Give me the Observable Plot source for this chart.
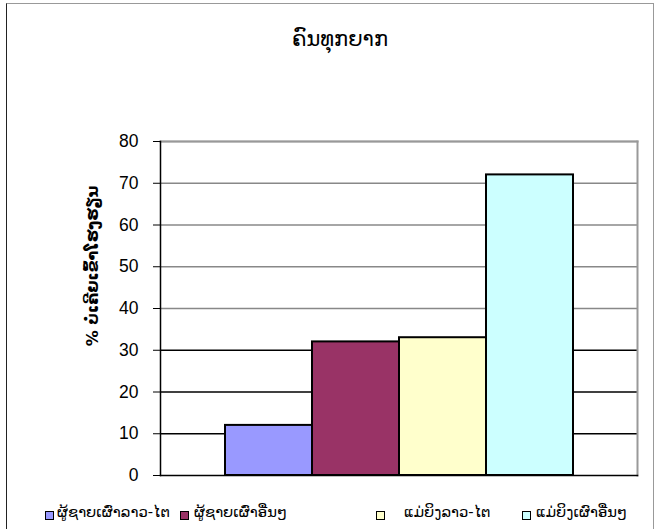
<!DOCTYPE html>
<html>
<head>
<meta charset="utf-8">
<script src="https://cdn.jsdelivr.net/npm/d3@7"></script>
<script src="https://cdn.jsdelivr.net/npm/@observablehq/plot@0.6"></script>
<style>
  html, body { margin: 0; padding: 0; background: #fff; }
  #page { position: relative; width: 655px; height: 529px; overflow: hidden; background: #fff; }
  #box { position: absolute; left: 6px; top: 3px; width: 646px; height: 540px;
         border-left: 1px solid #222; border-top: 1px solid #999; border-right: 1px solid #999; }
  #title { position: absolute; left: 0; width: 680px; top: 27px; text-align: center;
           font-family: "DejaVu Sans", sans-serif; font-size: 21px; color: #000; }
  #ylabel { position: absolute; left: 92px; top: 266px; transform: translate(-50%, -50%) rotate(-90deg);
            white-space: nowrap; font-family: "DejaVu Sans", sans-serif; font-weight: bold; font-size: 16px; color: #000; }
  #legend { position: absolute; top: 503px; left: 0; width: 655px; height: 24px;
            font-family: "DejaVu Sans", sans-serif; font-size: 14.8px; color: #000; }
  .sw { position: absolute; top: 8px; width: 7px; height: 7px; border: 1px solid #000; }
  .lab { position: absolute; top: 0; white-space: nowrap; }
  #chart { position: absolute; left: 0; top: 0; }
</style>
</head>
<body>
<div id="page">
  <div id="box"></div>
  <div id="chart"></div>
  <div id="title"></div>
  <div id="ylabel"></div>
  <div id="legend"></div>
</div>
<script>
const title = "ຄົນທຸກຍາກ";
const yLabel = "% ບໍ່ເຄີຍເຂົ້າໂຮງຮຽນ";
const series = ["ຜູ້ຊາຍເຜົ່າລາວ-ໄຕ", "ຜູ້ຊາຍເຜົ່າອື່ນໆ", "ແມ່ຍິງລາວ-ໄຕ", "ແມ່ຍິງເຜົາອື່ນໆ"];
const values = [12, 32, 33, 72];
const colors = ["#9999ff", "#993366", "#ffffcc", "#ccffff"];
const yTicks = [0, 10, 20, 30, 40, 50, 60, 70, 80];

const data = series.map((s, i) => ({series: s, value: values[i], color: colors[i]}));

document.getElementById("title").textContent = title;
document.getElementById("ylabel").textContent = yLabel;

const chart = Plot.plot({
  width: 655,
  height: 490,
  marginTop: 141,
  marginBottom: 15,
  marginLeft: 160,
  marginRight: 18,
  style: {background: "transparent", overflow: "visible"},
  x: {type: "band", domain: series, range: [225, 573], padding: 0, axis: null},
  y: {domain: [0, 80], ticks: yTicks},
  marks: [
    Plot.ruleY(yTicks.filter(d => d > 0), {stroke: d => d >= 40 ? "#888" : "#000", strokeWidth: 1.3}),
    Plot.frame({anchor: "top", stroke: "#999", strokeWidth: 2}),
    Plot.frame({anchor: "right", stroke: "#999", strokeWidth: 2}),
    Plot.barY(data, {x: "series", y: "value", fill: "color", stroke: "#000", strokeWidth: 2, inset: 0}),
    Plot.frame({anchor: "left", stroke: "#000", strokeWidth: 1.5}),
    Plot.frame({anchor: "bottom", stroke: "#000", strokeWidth: 1.5}),
    Plot.axisY({ticks: yTicks, tickSize: 7, tickPadding: 15, label: null, fontSize: 17.5,
                fontFamily: "Liberation Sans, Arial, sans-serif", stroke: "#000", color: "#000"})
  ]
});
chart.style.fontFamily = "Liberation Sans, Arial, sans-serif";
document.getElementById("chart").appendChild(chart);

const legendPos = [{sw: 45, lab: 57}, {sw: 180, lab: 194}, {sw: 376, lab: 404}, {sw: 522, lab: 536}];
const legend = document.getElementById("legend");
series.forEach((s, i) => {
  const sw = document.createElement("div");
  sw.className = "sw";
  sw.style.left = legendPos[i].sw + "px";
  sw.style.background = colors[i];
  legend.appendChild(sw);
  const lab = document.createElement("div");
  lab.className = "lab";
  lab.style.left = legendPos[i].lab + "px";
  lab.textContent = s;
  legend.appendChild(lab);
});
</script>
</body>
</html>
